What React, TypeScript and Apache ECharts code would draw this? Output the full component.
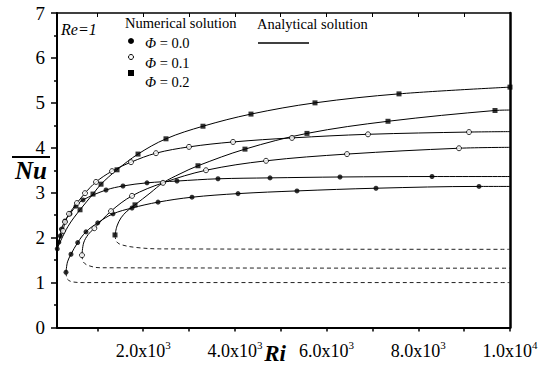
import React, { useEffect, useRef } from "react";
import * as echarts from "echarts";

type Pt = [number, number];

const FONT = "Liberation Serif, serif";

// Axis ticks / labels
const xTickValues = [1000, 2000, 3000, 4000, 5000, 6000, 7000, 8000, 9000, 10000];
const xLabelValues = [2000, 4000, 6000, 8000, 10000];
const xMin = 120;
const xMax = 10000;
const yMin = 0;
const yMax = 7;

// Φ = 0.0 : branch from small Ri
const phi00BranchALine: Pt[] = [[125, 1.75], [160, 1.9], [190, 2.04], [215, 2.19], [294, 2.37], [404, 2.53], [534, 2.7], [687, 2.84], [1189, 3.06], [1559, 3.15], [2083, 3.22], [2737, 3.26], [3631, 3.31], [4766, 3.33], [6292, 3.35], [8299, 3.36], [10000, 3.36]];
const phi00BranchAPts: Pt[] = [[125, 1.75], [160, 1.9], [190, 2.04], [215, 2.19], [294, 2.37], [404, 2.53], [534, 2.7], [687, 2.84], [1189, 3.06], [1559, 3.15], [2083, 3.22], [2737, 3.26], [3631, 3.31], [4766, 3.33], [6292, 3.35], [8299, 3.36]];
// Φ = 0.0 : branch with turning point (upper solid, lower dashed)
const phi00UpperLine: Pt[] = [[316, 1.23], [349, 1.46], [425, 1.63], [571, 1.89], [752, 2.13], [1008, 2.33], [1341, 2.53], [1756, 2.66], [2323, 2.79], [3064, 2.9], [4068, 2.98], [5354, 3.04], [7077, 3.1], [9324, 3.14], [10000, 3.14]];
const phi00UpperPts: Pt[] = [[316, 1.23], [425, 1.63], [571, 1.89], [752, 2.13], [1008, 2.33], [1341, 2.53], [1756, 2.66], [2323, 2.79], [3064, 2.9], [4068, 2.98], [5354, 3.04], [7077, 3.1], [9324, 3.14]];
const phi00LowerLine: Pt[] = [[316, 1.23], [345, 1.08], [440, 1.02], [694, 1.0], [10000, 1.0]];

// Φ = 0.1
const phi01BranchALine: Pt[] = [[125, 1.84], [251, 2.15], [294, 2.35], [382, 2.53], [556, 2.77], [731, 2.99], [971, 3.24], [1320, 3.48], [1734, 3.68], [2279, 3.88], [2999, 4.02], [3959, 4.13], [5245, 4.22], [6903, 4.3], [9106, 4.35], [10000, 4.36]];
const phi01BranchAPts: Pt[] = [[251, 2.15], [294, 2.35], [382, 2.53], [556, 2.77], [731, 2.99], [971, 3.24], [1320, 3.48], [1734, 3.68], [2279, 3.88], [2999, 4.02], [3959, 4.13], [5245, 4.22], [6903, 4.3], [9106, 4.35]];
const phi01UpperLine: Pt[] = [[665, 1.61], [700, 1.88], [800, 2.07], [934, 2.21], [1298, 2.59], [1756, 2.93], [2432, 3.22], [3370, 3.5], [4679, 3.71], [6445, 3.86], [8888, 3.99], [10000, 4.01]];
const phi01UpperPts: Pt[] = [[665, 1.61], [934, 2.21], [1298, 2.59], [1756, 2.93], [2432, 3.22], [3370, 3.5], [4679, 3.71], [6445, 3.86], [8888, 3.99]];
const phi01LowerLine: Pt[] = [[665, 1.61], [694, 1.46], [803, 1.38], [1058, 1.33], [10000, 1.32]];

// Φ = 0.2
const phi02BranchALine: Pt[] = [[125, 1.76], [360, 2.25], [622, 2.62], [905, 2.97], [1080, 3.19], [1429, 3.51], [1887, 3.86], [2497, 4.2], [3304, 4.48], [4351, 4.75], [5747, 5.0], [7579, 5.2], [10000, 5.35]];
const phi02BranchAPts: Pt[] = [[622, 2.62], [905, 2.97], [1080, 3.19], [1429, 3.51], [1887, 3.86], [2497, 4.2], [3304, 4.48], [4351, 4.75], [5747, 5.0], [7579, 5.2], [10000, 5.35]];
const phi02UpperLine: Pt[] = [[1385, 2.06], [1429, 2.26], [1516, 2.44], [1647, 2.59], [1821, 2.73], [2148, 2.99], [2432, 3.22], [2803, 3.42], [3195, 3.6], [4220, 3.97], [5572, 4.32], [7339, 4.59], [9673, 4.83], [10000, 4.84]];
const phi02UpperPts: Pt[] = [[1385, 2.06], [1821, 2.73], [3195, 3.6], [4220, 3.97], [5572, 4.32], [7339, 4.59], [9673, 4.83]];
const phi02LowerLine: Pt[] = [[1385, 2.06], [1420, 1.91], [1531, 1.84], [1858, 1.78], [2366, 1.75], [10000, 1.74]];

const legendPhi = ["0.0", "0.1", "0.2"];

const solid = (data: Pt[]) => ({
  type: "line",
  data,
  smooth: 0.35,
  symbol: "none",
  showSymbol: false,
  silent: true,
  lineStyle: { color: "#000", width: 1 },
  z: 2,
});
const dashed = (data: Pt[]) => ({
  type: "line",
  data,
  smooth: 0.35,
  symbol: "none",
  showSymbol: false,
  silent: true,
  lineStyle: { color: "#222", width: 1, type: [4, 3] },
  z: 2,
});
const filledDots = (data: Pt[]) => ({
  type: "scatter",
  data,
  symbol: "circle",
  symbolSize: 5,
  silent: true,
  itemStyle: { color: "#000" },
  z: 3,
});
const openDots = (data: Pt[]) => ({
  type: "scatter",
  data,
  symbol: "circle",
  symbolSize: 5,
  silent: true,
  itemStyle: { color: "#fff", borderColor: "#000", borderWidth: 1 },
  z: 3,
});
const squares = (data: Pt[]) => ({
  type: "scatter",
  data,
  symbol: "rect",
  symbolSize: 5,
  silent: true,
  itemStyle: { color: "#000" },
  z: 3,
});

const txt = (x: number, y: number, text: string, extra: any = {}) => ({
  type: "text",
  x,
  y,
  silent: true,
  style: {
    text,
    fill: "#000",
    fontFamily: FONT,
    fontSize: 14.5,
    align: "left",
    verticalAlign: "middle",
    textAlign: "left",
    textVerticalAlign: "middle",
    ...extra,
  },
});

const option: any = {
  animation: false,
  backgroundColor: "#fff",
  textStyle: { fontFamily: FONT },
  grid: {
    left: 57,
    right: 31,
    top: 13,
    bottom: 37.5,
    containLabel: false,
    outerBoundsMode: "none",
  },
  xAxis: [
    {
      type: "value",
      min: xMin,
      max: xMax,
      position: "bottom",
      axisLine: { show: true, onZero: false, lineStyle: { color: "#000", width: 2 } },
      axisTick: { show: true, customValues: xTickValues, length: 4, lineStyle: { color: "#000", width: 1.5 } },
      minorTick: { show: false },
      splitLine: { show: false },
      axisLabel: {
        customValues: xLabelValues,
        margin: 12,
        color: "#000",
        fontFamily: FONT,
        fontSize: 18,
        formatter: (v: number) => {
          const e = Math.floor(Math.log10(v) + 1e-9);
          const m = v / Math.pow(10, e);
          return `{b|${m.toFixed(1)}x10}{s|${e}}`;
        },
        rich: {
          b: { fontFamily: FONT, fontSize: 18, lineHeight: 22, color: "#000" },
          s: { fontFamily: FONT, fontSize: 11, lineHeight: 11, verticalAlign: "top", color: "#000" },
        },
      },
    },
    {
      type: "value",
      min: xMin,
      max: xMax,
      position: "top",
      axisLine: { show: true, onZero: false, lineStyle: { color: "#000", width: 1.5 } },
      axisTick: { show: true, inside: true, customValues: xTickValues, length: 4, lineStyle: { color: "#000", width: 1 } },
      axisLabel: { show: false },
      splitLine: { show: false },
    },
  ],
  yAxis: [
    {
      type: "value",
      min: yMin,
      max: yMax,
      interval: 1,
      position: "left",
      axisLine: { show: true, onZero: false, lineStyle: { color: "#000", width: 2 } },
      axisTick: { show: true, length: 6, lineStyle: { color: "#000", width: 1.5 } },
      minorTick: { show: true, splitNumber: 2, length: 3, lineStyle: { color: "#000", width: 1.5 } },
      splitLine: { show: false },
      axisLabel: { color: "#000", fontFamily: FONT, fontSize: 19, margin: 12 },
    },
    {
      type: "value",
      min: yMin,
      max: yMax,
      position: "right",
      axisLine: { show: true, onZero: false, lineStyle: { color: "#000", width: 2.5 } },
      axisTick: { show: false },
      axisLabel: { show: false },
      splitLine: { show: false },
    },
  ],
  series: [
    solid(phi00BranchALine),
    solid(phi00UpperLine),
    dashed(phi00LowerLine),
    solid(phi01BranchALine),
    solid(phi01UpperLine),
    dashed(phi01LowerLine),
    solid(phi02BranchALine),
    solid(phi02UpperLine),
    dashed(phi02LowerLine),
    filledDots(phi00BranchAPts),
    filledDots(phi00UpperPts),
    openDots(phi01BranchAPts),
    openDots(phi01UpperPts),
    squares(phi02BranchAPts),
    squares(phi02UpperPts),
  ],
  graphic: [
    txt(61, 29, "Re=1", { fontStyle: "italic", fontSize: 16 }),
    txt(125, 23, "Numerical solution"),
    txt(257, 24, "Analytical solution"),
    { type: "line", silent: true, shape: { x1: 258, y1: 43, x2: 309, y2: 43 }, style: { stroke: "#000", lineWidth: 1.5 } },
    { type: "circle", silent: true, shape: { cx: 131, cy: 41, r: 3 }, style: { fill: "#000" } },
    { type: "circle", silent: true, shape: { cx: 131, cy: 57, r: 2.5 }, style: { fill: "#fff", stroke: "#000", lineWidth: 1 } },
    { type: "rect", silent: true, shape: { x: 128, y: 70, width: 6, height: 6 }, style: { fill: "#000" } },
    ...legendPhi.map((p, i) =>
      txt(145, [43, 63, 82][i], `{i|Φ} = ${p}`, {
        rich: { i: { fontStyle: "italic", fontFamily: FONT, fontSize: 14.5, fill: "#000" } },
      })
    ),
    txt(31, 170, "Nu", { fontStyle: "italic", fontWeight: "bold", fontSize: 25, align: "center", textAlign: "center" }),
    { type: "line", silent: true, shape: { x1: 12, y1: 157, x2: 50, y2: 157 }, style: { stroke: "#000", lineWidth: 2 } },
    txt(275, 353, "Ri", { fontStyle: "italic", fontWeight: "bold", fontSize: 23, align: "center", textAlign: "center" }),
  ],
};

export default function App() {
  const ref = useRef<HTMLDivElement>(null);
  useEffect(() => {
    if (!ref.current) return;
    const chart = echarts.init(ref.current, null, { renderer: "svg" });
    chart.setOption(option);
    return () => chart.dispose();
  }, []);
  return (
    <div
      ref={ref}
      style={{ width: 541, height: 365, position: "fixed", left: 0, top: 0, background: "#fff" }}
    />
  );
}
